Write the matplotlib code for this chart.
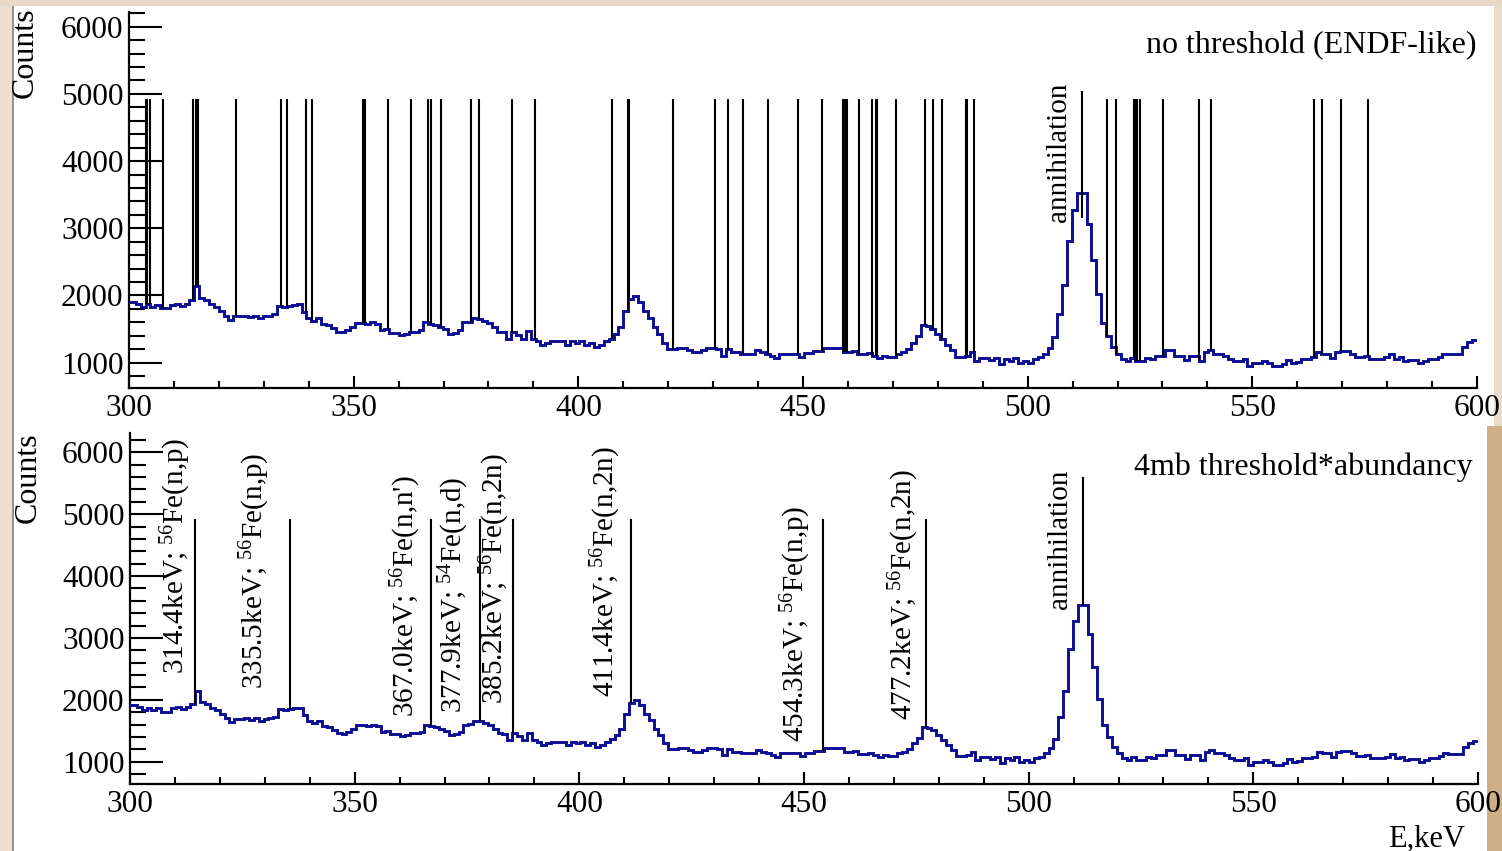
import numpy as np
import matplotlib.pyplot as plt
from matplotlib.ticker import MultipleLocator
from matplotlib.patches import Rectangle

plt.rcParams['font.family'] = ['Liberation Serif', 'DejaVu Serif']
plt.rcParams['mathtext.fontset'] = 'custom'
plt.rcParams['mathtext.rm'] = 'Liberation Serif'
plt.rcParams['mathtext.it'] = 'Liberation Serif:italic'

# measured spectrum (same histogram in both panels)
first_edge = 299.35   # keV
bin_width = 1.085     # keV
counts = [
    1910, 1910, 1880, 1830, 1870, 1830, 1860, 1810, 1810, 1860,
    1880, 1850, 1880, 1930, 2140, 1960, 1930, 1870, 1830, 1770,
    1700, 1640, 1690, 1690, 1700, 1680, 1700, 1660, 1690, 1700,
    1720, 1850, 1830, 1850, 1860, 1870, 1750, 1660, 1620, 1660,
    1580, 1560, 1520, 1460, 1450, 1480, 1530, 1590, 1590, 1580,
    1600, 1570, 1480, 1500, 1440, 1440, 1410, 1430, 1460, 1460,
    1480, 1600, 1570, 1560, 1530, 1500, 1430, 1440, 1480, 1600,
    1610, 1660, 1650, 1620, 1590, 1535, 1460, 1455, 1350, 1460,
    1410, 1350, 1465, 1350, 1320, 1270, 1295, 1320, 1320, 1320,
    1270, 1320, 1295, 1320, 1270, 1295, 1241, 1268, 1322, 1359,
    1428, 1535, 1776, 1952, 1990, 1909, 1776, 1668, 1535, 1428,
    1295, 1200, 1204, 1215, 1215, 1188, 1161, 1161, 1188, 1226,
    1226, 1200, 1107, 1200, 1161, 1161, 1134, 1134, 1134, 1188,
    1161, 1134, 1107, 1070, 1134, 1134, 1134, 1134, 1091, 1144,
    1144, 1177, 1177, 1215, 1215, 1215, 1215, 1160, 1160, 1177,
    1123, 1123, 1144, 1107, 1070, 1107, 1091, 1091, 1134, 1160,
    1199, 1295, 1391, 1561, 1540, 1508, 1428, 1348, 1268, 1188,
    1091, 1091, 1107, 1160, 1027, 1070, 1070, 1038, 1070, 974,
    1054, 1027, 1070, 1000, 1027, 1000, 1054, 1080, 1135, 1220,
    1375, 1721, 2149, 2818, 3271, 3528, 3528, 3058, 2523, 2016,
    1588, 1401, 1241, 1135, 1054, 1027, 1070, 1027, 1027, 1070,
    1054, 1107, 1107, 1188, 1188, 1107, 1107, 1038, 1107, 1107,
    1027, 1160, 1188, 1134, 1134, 1107, 1054, 1027, 1027, 1054,
    947, 1000, 1000, 1027, 1000, 947, 947, 974, 1038, 1000,
    1016, 1054, 1054, 1080, 1160, 1134, 1134, 1070, 1160, 1171,
    1171, 1134, 1091, 1091, 1107, 1054, 1054, 1054, 1080, 1123,
    1054, 1080, 1027, 1038, 1038, 1000, 1027, 1054, 1054, 1091,
    1134, 1123, 1123, 1123, 1241, 1305, 1332, 1332,
]

# gamma lines without threshold (top panel), keV
endf_lines = [303.7, 304.0, 304.7, 307.6, 314.3, 314.8, 315.4, 323.8, 333.8, 335.2,
              339.4, 340.8, 352.1, 352.5, 357.7, 362.8, 366.5, 367.2, 369.4, 376.1,
              377.8, 385.2, 390.4, 407.4, 411.0, 411.3, 421.1, 430.4, 433.4, 436.6,
              442.2, 448.8, 454.2, 459.0, 459.4, 459.7, 462.5, 465.4, 466.2, 466.4,
              470.6, 477.1, 478.9, 480.9, 486.2, 486.5, 488.1, 517.6, 519.7, 523.7,
              524.0, 524.3, 524.9, 530.2, 538.2, 540.8, 563.8, 565.6, 569.7, 575.7]
line_height = 4920

# lines kept with the 4mb threshold (bottom panel)
thr_lines = [314.4, 335.5, 367.0, 377.9, 385.2, 411.4, 454.3, 477.2]
thr_isotope = ['56', '56', '56', '54', '56', '56', '56', '56']
thr_reaction = ['(n,p)', '(n,p)', "(n,n')", '(n,d)', '(n,2n)', '(n,2n)', '(n,p)', '(n,2n)']
thr_label_x = [313.95, 331.5, 365.3, 376.0, 385.0, 409.8, 452.1, 476.0]
thr_label_y = [2420, 2180, 1720, 1780, 1940, 2040, 1320, 1670]

annih_E = 512.1
annih_top = [5050, 5600]
annih_low_top_panel = 3160
annih_label_x = 509.8
annih_label_y = [3100, 3460]

edges = first_edge + bin_width * np.arange(len(counts) + 1)
counts = np.array(counts)


def hist_at(e):
    i = np.searchsorted(edges, e) - 1
    return counts[i]


HIST_COLOR = '#0c0c94'
FS = 21
TICK_FS = 22.5

fig = plt.figure(figsize=(15.02, 8.51), dpi=100)
fig.patch.set_facecolor('white')

# marble background strips at the edges of the slide
strips = [((0, 0), 12 / 1502, 1, '#ecdfd0'),
          ((12 / 1502, 0), 1.5 / 1502, 1, '#9a9088'),
          ((1487 / 1502, 0), 15 / 1502, 0.5, '#cfae88'),
          ((1494 / 1502, 0.5), 8 / 1502, 0.5, '#eadccb'),
          ((0, 1 - 6 / 851), 1, 6 / 851, '#e9d8c6')]
for xy, w, h, c in strips:
    fig.patches.append(Rectangle(xy, w, h, transform=fig.transFigure,
                                 facecolor=c, edgecolor='none', zorder=-5))

ax1 = fig.add_axes([129 / 1502, 1 - 388.3 / 851, 1348 / 1502, 376.6 / 851])
ax2 = fig.add_axes([130 / 1502, 1 - 784.3 / 851, 1348 / 1502, 351 / 851])

for ax, ylo, yhi in [(ax1, 619, 6223), (ax2, 635, 6307)]:
    ax.set_facecolor('none')
    ax.stairs(counts, edges, color=HIST_COLOR, lw=2.1, zorder=3)
    ax.set_xlim(300, 600)
    ax.set_ylim(ylo, yhi)
    ax.spines['top'].set_visible(False)
    ax.spines['right'].set_visible(False)
    ax.spines['left'].set_linewidth(1.6)
    ax.spines['bottom'].set_linewidth(1.6)
    ax.xaxis.set_major_locator(MultipleLocator(50))
    ax.xaxis.set_minor_locator(MultipleLocator(10))
    ax.yaxis.set_major_locator(MultipleLocator(1000))
    ax.yaxis.set_minor_locator(MultipleLocator(200))
    ax.tick_params(which='both', direction='in', top=False, right=False, width=1.5,
                   labelsize=TICK_FS, pad=4)
    ax.tick_params(axis='y', which='major', length=24)
    ax.tick_params(axis='y', which='minor', length=11.5)
    ax.tick_params(axis='x', which='major', length=8.5)
    ax.tick_params(axis='x', which='minor', length=5)

# top panel: every line
ax1.vlines(endf_lines, [hist_at(e) for e in endf_lines], line_height,
           color='k', lw=1.5, zorder=4)
ax1.vlines(annih_E, annih_low_top_panel, annih_top[0], color='k', lw=1.5, zorder=4)
ax1.text(annih_label_x, annih_label_y[0], 'annihilation', rotation=90,
         ha='right', va='bottom', fontsize=FS)
ax1.text(1.0, 0.8895, 'no threshold (ENDF-like)', transform=ax1.transAxes,
         ha='right', va='baseline', fontsize=23)

# bottom panel: lines above threshold
ax2.vlines(thr_lines, [hist_at(e) for e in thr_lines], line_height,
           color='k', lw=1.5, zorder=4)
for e, iso, reac, tx, ty in zip(thr_lines, thr_isotope, thr_reaction, thr_label_x, thr_label_y):
    ax2.text(tx, ty, f'{e:.1f}keV; $^{{{iso}}}$Fe{reac}', rotation=90,
             ha='right', va='bottom', fontsize=FS)
ax2.vlines(annih_E, hist_at(annih_E), annih_top[1], color='k', lw=1.5, zorder=4)
ax2.text(annih_label_x, annih_label_y[1], 'annihilation', rotation=90,
         ha='right', va='bottom', fontsize=FS)
ax2.text(0.9963, 0.881, '4mb threshold*abundancy', transform=ax2.transAxes,
         ha='right', va='baseline', fontsize=23)

fig.text(25 / 1502, 1 - 7 / 851, 'Counts', rotation=90, ha='center', va='top', fontsize=23)
fig.text(28 / 1502, 1 - 432 / 851, 'Counts', rotation=90, ha='center', va='top', fontsize=23)
fig.text(1465 / 1502, 1 - 847 / 851, 'E,keV', ha='right', va='baseline', fontsize=22)

fig.savefig('out.png', dpi=100)
